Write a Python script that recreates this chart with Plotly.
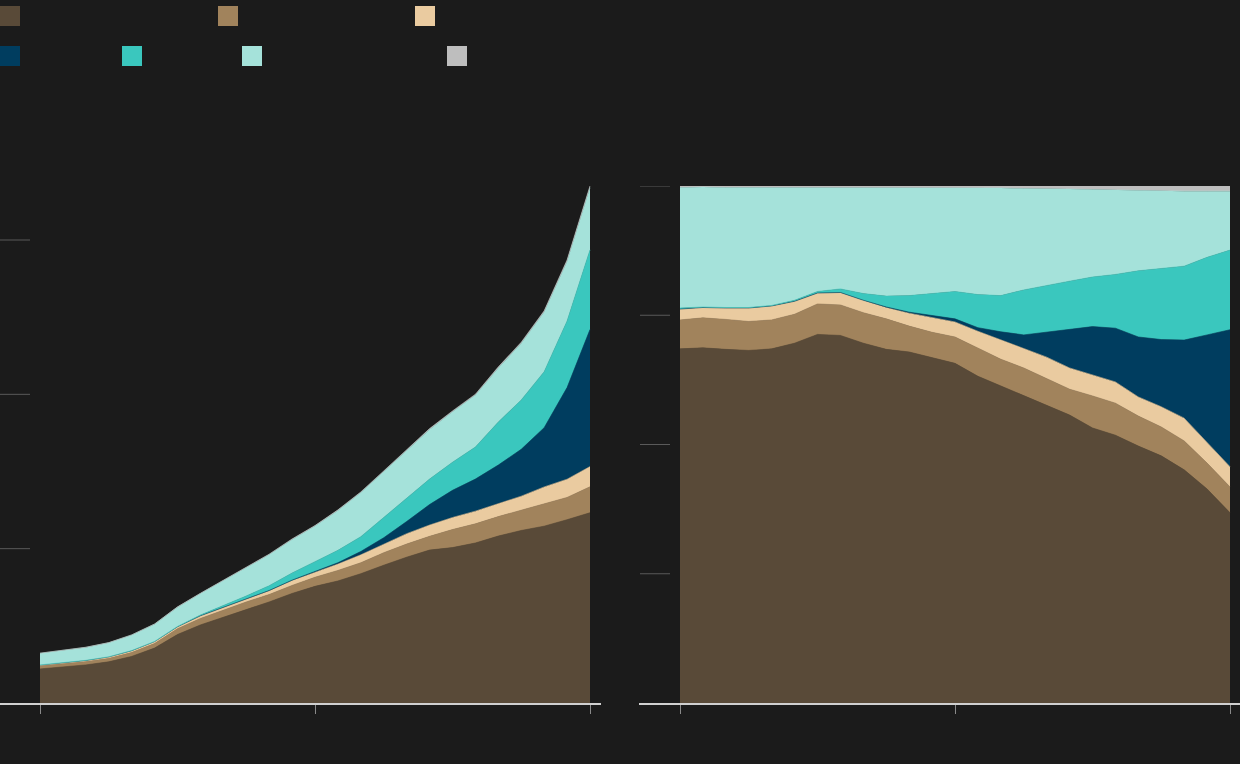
import plotly.graph_objects as go

# ---------------- data ----------------
years = list(range(2000, 2025))
x_ticks = [2000, 2012, 2024]

series_names = ["Series 1", "Series 2", "Series 3", "Series 4", "Series 5", "Series 6", "Series 7"]
series_colors = ["#594a38", "#a1835c", "#eacba0", "#003d5f", "#3ac7be", "#a5e2da", "#bebebe"]

# left panel: absolute values
abs_s1 = [221, 234, 247, 267, 302, 356, 444, 506, 555, 603, 655, 710, 756, 791, 838, 893, 945, 991, 1007, 1037, 1082, 1118, 1146, 1188, 1233]
abs_s2 = [18, 20, 21, 22, 25, 29, 37, 42, 47, 52, 48, 52, 59, 68, 71, 81, 85, 89, 117, 124, 126, 131, 142, 144, 168]
abs_s3 = [7, 7, 8, 10, 12, 13, 13, 17, 19, 19, 24, 31, 33, 41, 51, 56, 67, 73, 78, 82, 81, 91, 112, 118, 131]
abs_s4 = [0, 0, 0, 0, 0, 0, 0, 0, 0, 1, 2, 3, 7, 9, 22, 41, 79, 133, 176, 208, 253, 304, 384, 594, 888]
abs_s5 = [1, 0.3, 0.4, 0.4, 0.4, 1, 2, 5, 10, 18.5, 31, 46, 61, 80, 96, 131, 149, 165, 182, 208, 279, 320, 363, 431, 516]
abs_s6 = [75, 79, 84, 91, 101, 112, 125, 139, 164, 185, 202, 218, 231, 259, 286, 298, 310, 322, 327, 336, 350, 367, 386, 386, 403]
abs_s7 = [1, 1, 1, 1, 1, 1, 2, 2, 2, 2, 2.5, 3, 3, 3.5, 4, 4, 4.5, 5, 5.5, 6, 7, 7, 8, 10, 12]
left_ticks = [1000, 2000, 3000]

# right panel: shares (%)
pct_s1 = [68.5, 68.7, 68.4, 68.2, 68.5, 69.6, 71.3, 71.1, 69.6, 68.4, 67.9, 66.8, 65.7, 63.2, 61.3, 59.4, 57.6, 55.7, 53.2, 51.8, 49.7, 47.8, 45.1, 41.4, 36.8]
pct_s2 = [5.6, 5.8, 5.8, 5.6, 5.6, 5.6, 5.9, 5.9, 5.9, 5.9, 5.0, 4.9, 5.1, 5.4, 5.2, 5.4, 5.2, 5.0, 6.2, 6.2, 5.8, 5.6, 5.6, 5.0, 5.0]
pct_s3 = [2.1, 2.0, 2.2, 2.6, 2.7, 2.5, 2.1, 2.4, 2.4, 2.2, 2.5, 2.9, 2.9, 3.3, 3.7, 3.7, 4.1, 4.1, 4.1, 4.1, 3.7, 3.9, 4.4, 4.1, 3.9]
pct_s4 = [0, 0, 0, 0, 0, 0, 0, 0, 0, 0.1, 0.2, 0.3, 0.6, 0.7, 1.6, 2.7, 4.8, 7.5, 9.3, 10.4, 11.6, 13.0, 15.1, 20.7, 26.5]
pct_s5 = [0.2, 0.1, 0.1, 0.1, 0.1, 0.2, 0.3, 0.7, 1.3, 2.1, 3.2, 4.3, 5.3, 6.4, 7.0, 8.7, 9.1, 9.3, 9.6, 10.4, 12.8, 13.7, 14.3, 15.0, 15.4]
pct_s6 = [23.3, 23.2, 23.2, 23.2, 22.8, 21.8, 20.1, 19.6, 20.5, 21.0, 20.9, 20.4, 20.0, 20.6, 20.8, 19.6, 18.7, 17.8, 16.9, 16.3, 15.5, 15.0, 14.5, 12.8, 11.4]
pct_s7 = [0.3, 0.2, 0.3, 0.3, 0.3, 0.3, 0.3, 0.3, 0.3, 0.3, 0.3, 0.4, 0.4, 0.4, 0.4, 0.5, 0.5, 0.6, 0.7, 0.8, 0.9, 1.0, 1.0, 1.0, 1.0]
right_ticks = [25, 50, 75, 100]

abs_series = [abs_s1, abs_s2, abs_s3, abs_s4, abs_s5, abs_s6, abs_s7]
pct_series = [pct_s1, pct_s2, pct_s3, pct_s4, pct_s5, pct_s6, pct_s7]

# ---------------- layout constants ----------------
W, H = 1240, 764
BG = "#1b1b1b"

fig = go.Figure()

for name, color, vals in zip(series_names, series_colors, abs_series):
    fig.add_trace(go.Scatter(
        x=years, y=vals, name=name, mode="lines", stackgroup="left",
        line=dict(color=color, width=0.6), fillcolor=color,
        xaxis="x", yaxis="y", showlegend=False,
    ))

for name, color, vals in zip(series_names, series_colors, pct_series):
    fig.add_trace(go.Scatter(
        x=years, y=vals, name=name, mode="lines", stackgroup="right",
        line=dict(color=color, width=0.6), fillcolor=color,
        xaxis="x2", yaxis="y2", showlegend=False,
    ))

px_per_year = 550 / 24
ydom = [61 / H, 578 / H]

axis_common = dict(
    showgrid=False, zeroline=False, showticklabels=False,
    showline=True, linecolor="#d0d0d0", linewidth=2,
    ticks="outside", ticklen=9, tickwidth=1, tickcolor="#8a8a8a",
    tickvals=x_ticks, fixedrange=True,
)

fig.update_layout(
    width=W, height=H,
    margin=dict(l=0, r=0, t=0, b=0),
    paper_bgcolor=BG, plot_bgcolor=BG,
    showlegend=False,
    xaxis=dict(domain=[0, 601 / W],
               range=[2000 - 40 / px_per_year, 2024 + 11 / px_per_year],
               anchor="y", **axis_common),
    xaxis2=dict(domain=[639 / W, 1],
                range=[2000 - 41 / px_per_year, 2024 + 10 / px_per_year],
                anchor="y2", **axis_common),
    yaxis=dict(domain=ydom, range=[0, 3350], visible=False, anchor="x"),
    yaxis2=dict(domain=ydom, range=[0, 100], visible=False, anchor="x2"),
)

shapes = []
# gridline stubs
for v in left_ticks:
    shapes.append(dict(type="line", xref="paper", yref="y", x0=0, x1=30 / W, y0=v, y1=v,
                       line=dict(color="#5a5a5a", width=1), layer="below"))
for v in right_ticks:
    shapes.append(dict(type="line", xref="paper", yref="y2", x0=640 / W, x1=670 / W, y0=v, y1=v,
                       line=dict(color="#5a5a5a", width=1), layer="below"))

# legend swatches (no text in the reference)
legend_pos = [(0, 6), (218, 6), (415, 6), (0, 46), (122, 46), (242, 46), (447, 46)]
for (lx, ly), color in zip(legend_pos, series_colors):
    shapes.append(dict(type="rect", xref="paper", yref="paper",
                       x0=lx / W, x1=(lx + 20) / W, y0=1 - (ly + 20) / H, y1=1 - ly / H,
                       fillcolor=color, line=dict(width=0)))

fig.update_layout(shapes=shapes)

post = ("document.documentElement.style.margin='0';"
        "document.body.style.margin='0';document.body.style.padding='0';"
        "document.body.style.background='#1b1b1b';document.body.style.overflow='hidden';")

fig.write_html("out.html", post_script=post, config={"displayModeBar": False})
